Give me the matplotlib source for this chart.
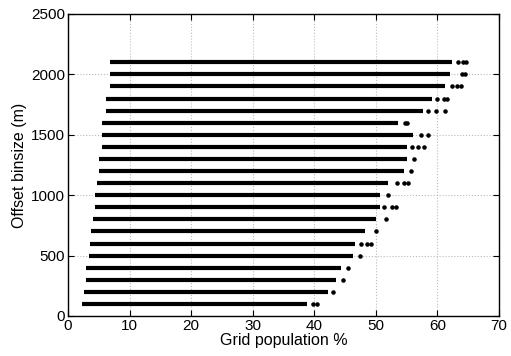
import matplotlib.pyplot as plt

# offset binsize rows (m)
offsets = [100, 200, 300, 400, 500, 600, 700, 800, 900, 1000, 1100,
           1200, 1300, 1400, 1500, 1600, 1700, 1800, 1900, 2000, 2100]
# lowest grid population seen in each row (%)
row_min = [2.3, 2.65, 2.9, 3.0, 3.4, 3.6, 3.8, 4.1, 4.4, 4.4, 4.7,
           5.1, 5.1, 5.6, 5.6, 5.6, 6.1, 6.1, 6.8, 6.8, 6.8]
# where the dense band of points stops (%)
row_max = [38.8, 42.3, 43.6, 44.4, 46.3, 46.6, 48.2, 50.1, 50.7, 50.7, 52.0,
           54.5, 55.1, 55.1, 56.1, 53.6, 57.7, 59.1, 61.3, 62.0, 62.3]
# isolated points beyond the band
row_tail = [[39.8, 40.5], [43.1], [44.7], [45.4], [47.4], [47.6, 48.5, 49.2],
            [50.0], [51.6], [51.4, 52.6, 53.2], [52.0], [53.4, 54.6, 55.3],
            [55.7], [56.2], [55.8, 56.9, 57.9], [57.3, 58.4], [54.7, 55.1],
            [58.5, 59.8, 61.2], [60.0, 61.1, 61.5], [62.4, 63.1, 63.8],
            [64.0, 64.5], [63.4, 64.2, 64.7]]

plt.rcParams['font.family'] = ['Liberation Sans', 'DejaVu Sans']

fig = plt.figure(figsize=(5.11, 3.56), dpi=100)
ax = fig.add_axes([0.133, 0.1124, 0.8435, 0.8483])

ax.hlines(offsets, row_min, row_max, colors='k', linewidth=3, zorder=3)
for y, tail in zip(offsets, row_tail):
    ax.plot(tail, [y] * len(tail), '.', color='k', markersize=4.5, zorder=3)

ax.set_xlim(0, 70)
ax.set_ylim(0, 2500)
ax.set_xticks(range(0, 71, 10))
ax.set_yticks(range(0, 2501, 500))
ax.grid(True, linestyle=':', color='#bbbbbb', linewidth=0.8)
ax.tick_params(direction='in', top=True, right=True, labelsize=11, length=4, pad=2)
for s in ax.spines.values():
    s.set_linewidth(1.0)
ax.set_xlabel('Grid population %', fontsize=11.5, labelpad=0)
ax.set_ylabel('Offset binsize (m)', fontsize=11.5, labelpad=3)

fig.savefig('out.png', dpi=100)
